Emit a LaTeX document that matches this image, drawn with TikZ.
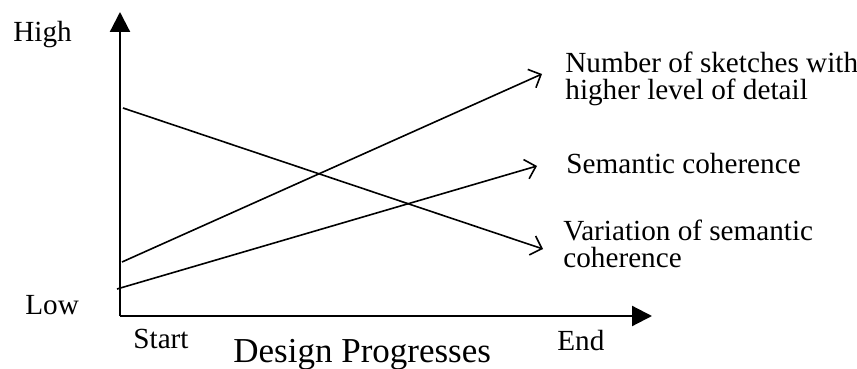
\documentclass[tikz,border=0pt]{standalone}
\usepackage{fontspec}
\setmainfont{Liberation Serif}
\usetikzlibrary{arrows.meta}

\begin{document}
\begin{tikzpicture}[
    x=0.5pt, y=-0.5pt,
    axis/.style={line width=1.1pt, -{Triangle[length=10pt,width=10pt]}},
    trend line/.style={line width=0.8pt, -{Straight Barb[length=5pt,width=10pt]}},
    label text/.style={anchor=base west, inner sep=0pt, align=left},
    every node/.style={color=black, font=\fontsize{14.6}{13.5}\selectfont}
    ]
    \useasboundingbox (0,0) rectangle (857,369);

    % axis
    \coordinate (origin) at (120,316);
    \draw[axis] (origin) -- (120,12) coordinate (ytip);
    \draw[axis] (origin) -- (652,316) coordinate (xtip);
    \node[label text] (high) at (13,42) {High};
    \node[label text] (low) at (25,314) {Low};
    \node[label text] (start) at (133,348) {Start};
    \node[label text] (end) at (557,350) {End};
    \node[label text, font=\fontsize{17.5}{20}\selectfont] (progress) at (233,362) {Design Progresses};

    % Lines (base of the two-line labels sits on their last line)
    \coordinate (detail0) at (122,262);
    \coordinate (coher0) at (117,289);
    \coordinate (vari0) at (123,108);
    \node[label text] (detail) at (565,100) {Number of sketches with\\higher level of detail};
    \node[label text] (coher) at (566,174) {Semantic coherence};
    \node[label text] (vari) at (563,267) {Variation of semantic\\coherence};
    \draw[trend line] (detail0) -- (542,74) coordinate (detail1);
    \draw[trend line] (coher0) -- (537,166) coordinate (coher1);
    \draw[trend line] (vari0) -- (543,249) coordinate (vari1);
\end{tikzpicture}
\end{document}
